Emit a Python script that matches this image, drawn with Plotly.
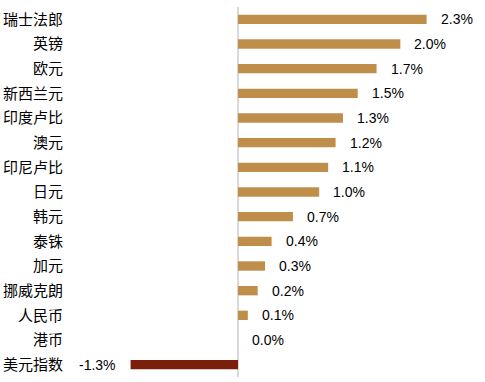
import plotly.graph_objects as go

categories = ["瑞士法郎", "英镑", "欧元", "新西兰元", "印度卢比", "澳元", "印尼卢比",
              "日元", "韩元", "泰铢", "加元", "挪威克朗", "人民币", "港币", "美元指数"]
values = [2.30, 1.98, 1.69, 1.46, 1.28, 1.19, 1.10, 0.99, 0.67, 0.41, 0.33, 0.24, 0.12, 0.0, -1.31]
value_labels = ["2.3%", "2.0%", "1.7%", "1.5%", "1.3%", "1.2%", "1.1%", "1.0%",
                "0.7%", "0.4%", "0.3%", "0.2%", "0.1%", "0.0%", "-1.3%"]

POS = "#C08E4B"
NEG = "#7A1F0A"
colors = [POS if v >= 0 else NEG for v in values]

fig = go.Figure()
fig.add_trace(go.Bar(
    y=categories, x=values, orientation="h",
    marker=dict(color=colors, line=dict(width=0)),
    width=0.38, hoverinfo="skip",
))

annotations = []
for c, v, t in zip(categories, values, value_labels):
    if v >= 0:
        annotations.append(dict(x=v, y=c, text=t, xanchor="left", xshift=12,
                                showarrow=False, yanchor="middle"))
    else:
        annotations.append(dict(x=v, y=c, text=t, xanchor="right", xshift=-13,
                                showarrow=False, yanchor="middle"))

fig.update_layout(
    width=485, height=382,
    margin=dict(l=75, r=2, t=7, b=5, autoexpand=False),
    paper_bgcolor="white", plot_bgcolor="white",
    showlegend=False, hovermode=False,
    font=dict(family="Liberation Sans, Arial, sans-serif", size=14, color="#000000"),
    annotations=annotations,
    xaxis=dict(range=[-1.988, 2.988], showgrid=False, showticklabels=False,
               zeroline=True, zerolinecolor="#D9D9D9", zerolinewidth=2,
               showline=False, ticks="", automargin=False, fixedrange=True),
    yaxis=dict(categoryorder="array", categoryarray=categories, autorange="reversed",
               showgrid=False, zeroline=False, showline=False, ticks="",
               tickfont=dict(family="Noto Sans CJK SC", size=15, color="#000000"),
               ticklabelstandoff=11, automargin=False, fixedrange=True),
)

fig.write_html("out.html", config={"displayModeBar": False, "staticPlot": True},
               post_script="document.body.style.margin='0px';")
